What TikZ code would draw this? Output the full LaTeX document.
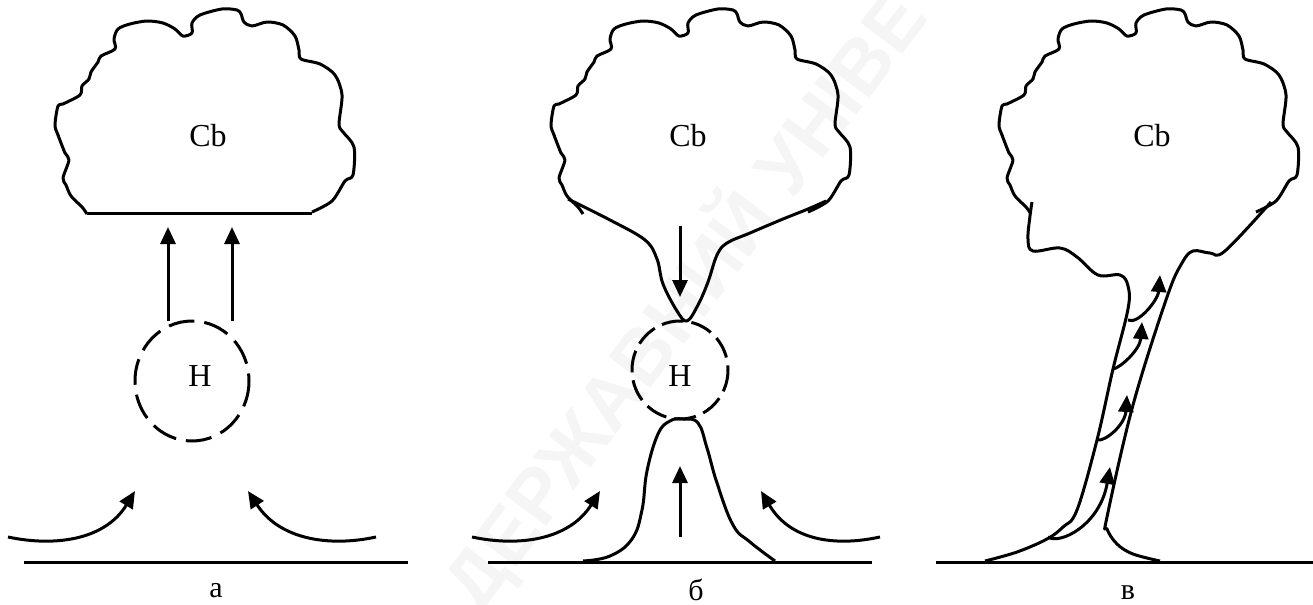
\documentclass[tikz,border=0pt]{standalone}
\usepackage{fontspec}
\setmainfont{Liberation Serif}
\newfontfamily\stampfont{Liberation Sans}
\usetikzlibrary{arrows.meta,calc}
\definecolor{StormInk}{HTML}{000000}
\definecolor{StampGray}{HTML}{F5F5F5}
% outline of the storm cloud, open at its base
\newcommand{\cloudcap}{plot[smooth,tension=0.5] coordinates {
  (87,214) (82,207) (71,196) (66,185) (63,178) (69,160) (65,153) (58,135) (55,125)
  (58,106) (63,104) (80,95) (82,86) (89,79) (91,72) (98,62) (101,56) (115,49)
  (114,39) (118,29) (130,24) (147,21) (163,23) (175,29) (183,36) (192,33) (192,23)
  (200,15) (222,9) (237,10) (241,14) (244,22) (252,26) (267,22) (283,25) (295,36)
  (299,50) (301,59) (320,64) (335,75) (342,95) (339,124) (343,132) (354,147)
  (353,175) (345,181) (332,201) (312,212)}}
\tikzset{
  cloudline/.style={line width=1.5pt, StormInk, line join=round},
  groundline/.style={line width=1.5pt, StormInk},
  vortex/.style={line width=1.5pt, StormInk, dash pattern=on 13pt off 5pt},
  flow/.style={-{Triangle[length=8.5pt,width=7.5pt]}, line width=1.5pt, StormInk},
  label/.style={font=\fontsize{16}{18}\selectfont, text=StormInk, inner sep=0pt},
  panel/.style={font=\fontsize{15}{17}\selectfont, text=StormInk, inner sep=0pt},
  stamp/.style={font=\stampfont\bfseries\fontsize{38}{42}\selectfont, text=StampGray, rotate=53, inner sep=0pt},
}

\begin{document}
\begin{tikzpicture}[x=0.5pt,y=-0.5pt]
  \useasboundingbox (0,0) rectangle (1313,605);

  \node[stamp] (mark) at (684,300) {ДЕРЖАВНИЙ УНІВЕ};

  % panel a
  \draw[cloudline] \cloudcap;
  \draw[cloudline] (87,213) -- (312,213);
  \node[label] (cbA) at (208,136) {Cb};
  \draw[vortex] (192,381) ellipse [x radius=57, y radius=60];
  \node[label] (hA) at (200,376) {Н};
  \coordinate (riseA) at (168,321);
  \coordinate (riseB) at (232,321);
  \draw[flow] (riseA) -- +(0,-94);
  \draw[flow] (riseB) -- +(0,-94);
  \draw[flow] (8,537) .. controls (55,547) and (105,540) .. (135,491);
  \draw[flow] (376,537) .. controls (330,547) and (280,540) .. (248,491);
  \draw[groundline] (24,562) -- (408,562);
  \node[panel] (capA) at (216,591) {а};

  % panel b
  \draw[cloudline,xshift=248pt] \cloudcap;
  \draw[cloudline] plot[smooth,tension=0.6] coordinates {(568,199) (610,220) (645,240)
    (657,259) (663,284) (677,311) (687,321) (698,305) (708,282) (717,255) (727,243)
    (750,233) (783,219) (808,209) (826,201)};
  \node[label] (cbB) at (688,136) {Cb};
  \draw[vortex,dash pattern=on 11pt off 4pt] (680,370) ellipse [x radius=48, y radius=49];
  \node[label] (hB) at (680,376) {Н};
  \draw[flow] (680,226) -- (680,297);
  \draw[flow] (680,537) -- (680,466);
  \draw[flow] (472,537) .. controls (519,547) and (569,540) .. (600,491);
  \draw[flow] (880,537) .. controls (834,547) and (790,540) .. (761,491);
  \draw[cloudline] plot[smooth,tension=0.7] coordinates {(583,561) (610,556) (632,539)
    (642,510) (647,471) (658,434) (670,421) (683,419) (698,423) (707,448) (717,483)
    (733,525) (750,542) (775,561)};
  \draw[groundline] (488,562) -- (872,562);
  \node[panel] (capB) at (696,590) {б};

  % panel c
  \draw[cloudline,xshift=472pt] \cloudcap;
  \draw[cloudline] plot[smooth,tension=0.6] coordinates {(1032,202) (1030,216) (1028,239)
    (1033,251) (1060,248) (1077,257) (1098,275) (1120,275) (1128,286) (1128,309)
    (1113,369) (1097,440) (1077,510) (1063,527) (1047,539) (1017,552) (985,561)};
  \draw[cloudline] plot[smooth,tension=0.6] coordinates {(1271,202) (1225,251) (1210,253)
    (1193,251) (1182,263) (1167,297) (1133,405) (1107,517) (1107,529) (1117,544)
    (1133,554) (1160,561)};
  \node[label] (cbC) at (1152,136) {Cb};
  \draw[flow] (1048,537) .. controls (1060,545) and (1100,525) .. (1110,467);
  \draw[flow] (1097,440) .. controls (1105,442) and (1125,425) .. (1127,395);
  \draw[flow] (1113,369) .. controls (1120,368) and (1140,350) .. (1142,322);
  \draw[flow] (1128,320) .. controls (1138,325) and (1158,300) .. (1160,275);
  \draw[groundline] (936,562) -- (1313,562);
  \node[panel] (capC) at (1128,593) {в};
\end{tikzpicture}
\end{document}
